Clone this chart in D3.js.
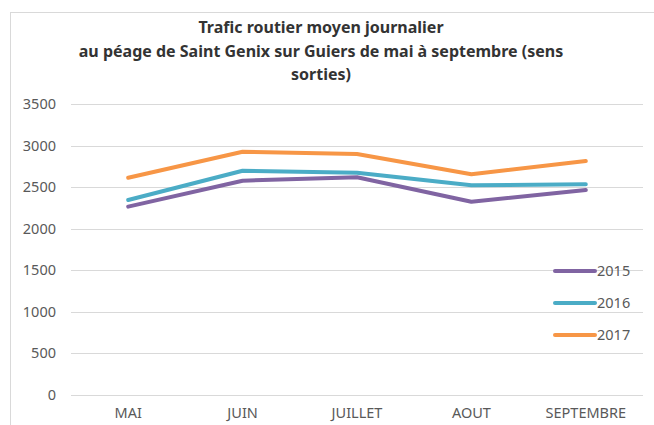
<!DOCTYPE html>
<html>
<head>
<meta charset="utf-8">
<script src="https://cdn.jsdelivr.net/npm/d3@7"></script>
<style>
  body { margin: 0; background: #fff; }
  svg text { font-family: "Noto Sans", "Open Sans", sans-serif; }
</style>
</head>
<body>
<div id="main"></div>
<script>
// chart data
const months = ['MAI', 'JUIN', 'JUILLET', 'AOUT', 'SEPTEMBRE'];
const years = ['2015', '2016', '2017'];
const v2015 = [2263, 2576, 2617, 2323, 2464];
const v2016 = [2344, 2696, 2672, 2520, 2532];
const v2017 = [2612, 2924, 2897, 2653, 2812];
const yTicks = [0, 500, 1000, 1500, 2000, 2500, 3000, 3500];
const titleLines = [
    'Trafic routier moyen journalier',
    'au péage de Saint Genix sur Guiers de mai à septembre (sens',
    'sorties)'
];

const seriesList = [v2015, v2016, v2017];
const colors = ['#8064a2', '#4bacc6', '#f79646'];

const w = 654;
const h = 425;

const svg = d3.select('#main')
            .append('svg')
            .attr('width', w)
            .attr('height', h);

// chart frame
svg.append('rect')
    .attr('x', 10.5)
    .attr('y', 12.5)
    .attr('width', 660)
    .attr('height', 440)
    .attr('fill', 'none')
    .attr('stroke', '#d9d9d9');

// title //
svg.append('g')
    .selectAll('text')
    .data(titleLines)
    .enter()
    .append('text')
    .attr('x', 321)
    .attr('y', (d, i) => 33 + i * 23.5)
    .attr('text-anchor', 'middle')
    .attr('font-size', 16)
    .attr('font-weight', 'bold')
    .attr('fill', '#333')
    .text(d => d);

// scales //
const x = d3.scaleBand()
            .domain(months)
            .range([71, 643]);

const y = d3.scaleLinear()
            .domain([0, 3500])
            .range([394.5, 104]);

// gridlines
svg.append('g')
    .selectAll('line')
    .data(yTicks)
    .enter()
    .append('line')
    .attr('x1', 71)
    .attr('x2', 643)
    .attr('y1', d => Math.round(y(d)) + 0.5)
    .attr('y2', d => Math.round(y(d)) + 0.5)
    .attr('stroke', '#d9d9d9')
    .attr('stroke-width', 1);

// y axis labels
const yAxis = d3.axisLeft(y)
                .tickValues(yTicks)
                .tickFormat(d3.format('d'))
                .tickSize(0)
                .tickPadding(0);

svg.append('g')
    .attr('transform', 'translate(56,0)')
    .call(yAxis)
    .call(g => g.select('.domain').remove())
    .selectAll('text')
    .attr('font-size', 14.5)
    .attr('fill', '#595959')
    .attr('font-family', '"Noto Sans", sans-serif');

// x axis labels
const xAxis = d3.axisBottom(x).tickSize(0).tickPadding(0);

svg.append('g')
    .attr('transform', 'translate(0,408)')
    .call(xAxis)
    .call(g => g.select('.domain').remove())
    .selectAll('text')
    .attr('font-size', 14.5)
    .attr('fill', '#595959')
    .attr('font-family', '"Noto Sans", sans-serif');

// lines //
const line = d3.line()
                .x((d, i) => x(months[i]) + x.bandwidth() / 2)
                .y(d => y(d));

svg.append('g')
    .selectAll('path')
    .data(seriesList)
    .enter()
    .append('path')
    .attr('d', line)
    .attr('fill', 'none')
    .attr('stroke', (d, i) => colors[i])
    .attr('stroke-width', 4)
    .attr('stroke-linecap', 'round')
    .attr('stroke-linejoin', 'round');

// legend //
const legend = svg.append('g')
                .selectAll('g')
                .data(years)
                .enter()
                .append('g')
                .attr('transform', (d, i) => `translate(555,${271 + i * 32})`);

legend.append('line')
    .attr('x1', 0)
    .attr('x2', 40)
    .attr('stroke', (d, i) => colors[i])
    .attr('stroke-width', 4)
    .attr('stroke-linecap', 'round');

legend.append('text')
    .attr('x', 42)
    .attr('dy', '0.35em')
    .attr('font-size', 14.5)
    .attr('fill', '#595959')
    .text(d => d);
</script>
</body>
</html>
